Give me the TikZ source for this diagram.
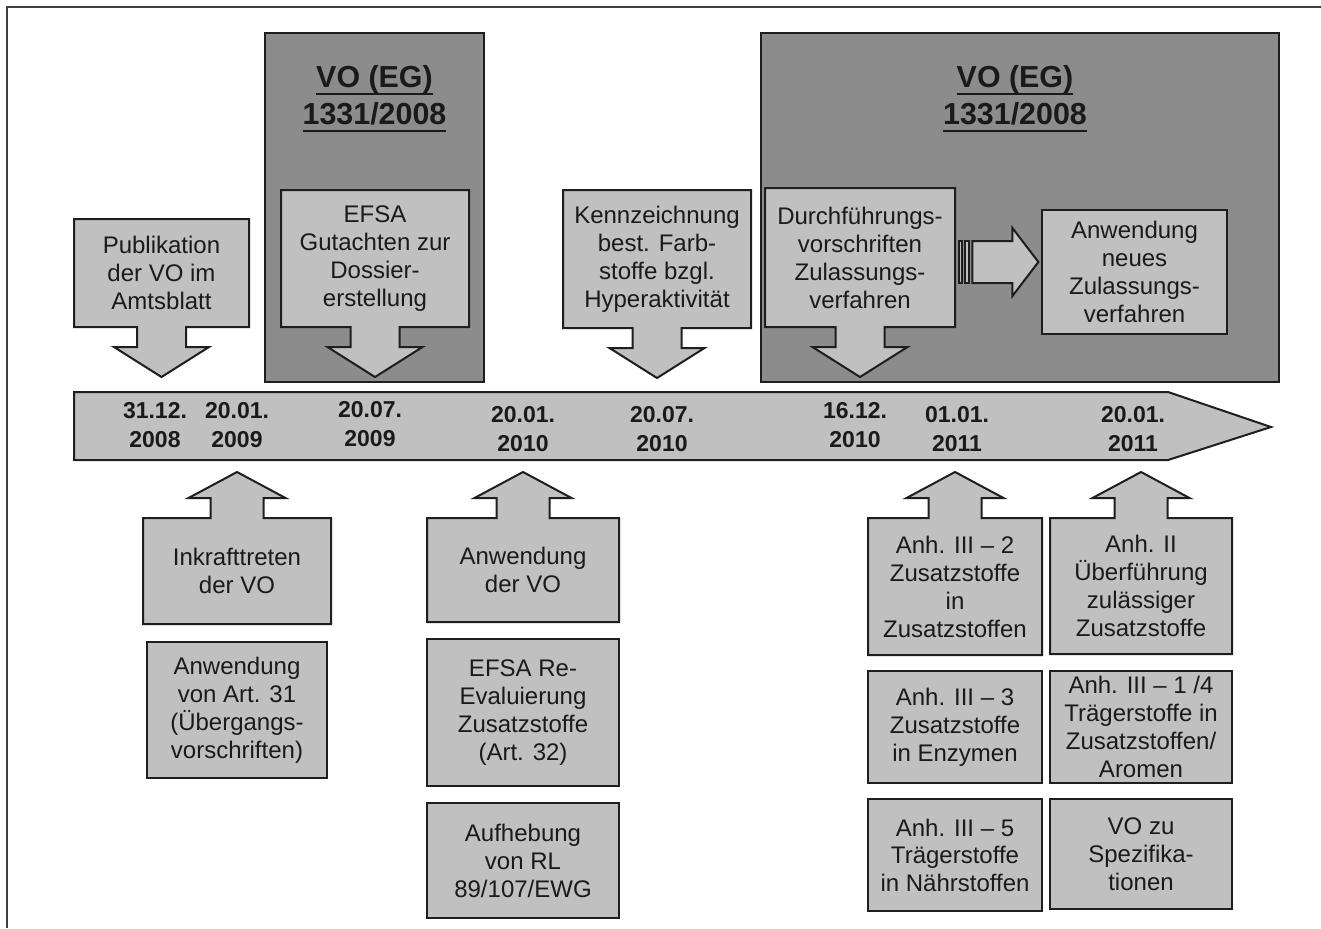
\documentclass[tikz,border=0pt]{standalone}
\usepackage{fontspec}
\setmainfont{Liberation Sans}
\usepackage{tikz}
\usetikzlibrary{positioning,calc}

\definecolor{boxlight}{HTML}{C0C0C0}
\definecolor{boxdark}{HTML}{8C8C8C}
\definecolor{edgecol}{HTML}{1E1E1E}
\definecolor{txtcol}{HTML}{1A1A1A}
\definecolor{framecol}{HTML}{404040}

\tikzset{
  outl/.style={fill=boxlight,draw=edgecol,line width=1pt},
  boxtxt/.style={align=center,inner sep=0pt,text=txtcol,font=\fontsize{12}{14}\selectfont},
  lbox/.style={boxtxt,fill=boxlight,draw=edgecol,line width=1pt},
  dbox/.style={fill=boxdark,draw=edgecol,line width=1.2pt,inner sep=0pt},
  datetxt/.style={align=center,inner sep=0pt,text=txtcol,font=\bfseries\fontsize{11.5}{14.5}\selectfont},
  titletxt/.style={align=center,inner sep=0pt,text=txtcol,font=\bfseries\fontsize{15.2}{18.5}\selectfont},
}

% underlined title line
\newcommand{\titleline}[1]{\setbox0\hbox{#1}\leavevmode\rlap{\copy0}\rule[-3.7pt]{\wd0}{1pt}}

% box with arrow below: name, cx, cy, w, h, text
\newcommand{\dnbox}[6]{%
  \draw[outl] ({#2-#4/2},{#3+#5/2}) -- ({#2-#4/2},{#3-#5/2}) -- ({#2+#4/2},{#3-#5/2})
    -- ({#2+#4/2},{#3+#5/2}) -- ({#2+24.5},{#3+#5/2}) -- ++(0,20) -- ++(23,0)
    -- ++(-47.5,30) -- ++(-47.5,-30) -- ++(23,0) -- ++(0,-20) -- cycle;
  \node[boxtxt,minimum width={#4*0.5pt},minimum height={#5*0.5pt}] (#1) at (#2,#3) {#6};
}
% box with arrow above: name, cx, cy, w, h, text
\newcommand{\upbox}[6]{%
  \draw[outl] ({#2-#4/2},{#3+#5/2}) -- ({#2-#4/2},{#3-#5/2}) -- ({#2-26.5},{#3-#5/2})
    -- ++(0,-20) -- ++(-22,0) -- ++(48.5,-26) -- ++(48.5,26) -- ++(-22,0) -- ++(0,20)
    -- ({#2+#4/2},{#3-#5/2}) -- ({#2+#4/2},{#3+#5/2}) -- cycle;
  \node[boxtxt,minimum width={#4*0.5pt},minimum height={#5*0.5pt}] (#1) at (#2,#3) {#6};
}

\begin{document}
\begin{tikzpicture}[x=0.5pt,y=-0.5pt]
  \useasboundingbox (0,0) rectangle (1321,928);
  \draw[framecol,line width=1.2pt] (7,928) -- (7,7) -- (1321,7);

  % regulation blocks
  \node[dbox,minimum width=109.5pt,minimum height=174.5pt] (vo1) at (374.5,207.5) {};
  \node[dbox,minimum width=259pt,minimum height=174.5pt] (vo2) at (1020,207.5) {};
  \node[titletxt,below=16.5pt of vo1.north] (vo1t) {\titleline{VO (EG)}\\\titleline{1331/2008}};
  \node[titletxt,below=16.5pt of vo2.north,xshift=-2.5pt] (vo2t) {\titleline{VO (EG)}\\\titleline{1331/2008}};

  % top events
  \dnbox{pub}{161.5}{273}{175}{108}{Publikation\\der VO im\\Amtsblatt}
  \dnbox{efsa}{375}{258.5}{188}{137}{EFSA\\Gutachten zur\\Dossier-\\erstellung}
  \dnbox{kenn}{657}{259}{188}{138}{Kennzeichnung\\best. Farb-\\stoffe bzgl.\\Hyperaktivität}
  \dnbox{durch}{860}{257.5}{190}{139}{Durchführungs-\\vorschriften\\Zulassungs-\\verfahren}
  \node[lbox,minimum width=92.5pt,minimum height=62pt] (anwneu) at (1134.5,272) {Anwendung\\neues\\Zulassungs-\\verfahren};

  \coordinate (sa) at ($(durch.east)+(4,4.5)$);
  \draw[outl] ($(sa)+(0,-21)$) rectangle ++(3,42);
  \draw[outl] ($(sa)+(6,-21)$) rectangle ++(4,42);
  \draw[outl] ($(sa)+(13,-21)$) -- ++(40,0) -- ++(0,-13) -- ++(26,34) -- ++(-26,34)
    -- ++(0,-13) -- ++(-40,0) -- cycle;

  % time line
  \draw[outl] (74,392) -- (1168,392) -- (1271,427) -- (1168,460) -- (74,460) -- cycle;
  \begin{scope}[every node/.style={datetxt}]
    \node (d1) at (155,425) {31.12.\\2008};
    \node (d2) at (237,425) {20.01.\\2009};
    \node (d3) at (370,424) {20.07.\\2009};
    \node (d4) at (523,429) {20.01.\\2010};
    \node (d5) at (662,429) {20.07.\\2010};
    \node (d6) at (855,425) {16.12.\\2010};
    \node (d7) at (957,429) {01.01.\\2011};
    \node (d8) at (1133,429) {20.01.\\2011};
  \end{scope}

  % bottom events
  \upbox{inkr}{237}{571}{188}{106}{Inkrafttreten\\der VO}
  \node[lbox,below=8.5pt of inkr,minimum width=90pt,minimum height=68pt] (art31) {Anwendung\\von Art. 31\\(Übergangs-\\vorschriften)};

  \upbox{anwvo}{523}{570}{192}{104}{Anwendung\\der VO}
  \node[lbox,below=8pt of anwvo,minimum width=96pt,minimum height=73.5pt] (reeval) {EFSA Re-\\Evaluierung\\Zusatzstoffe\\(Art. 32)};
  \node[lbox,below=7.5pt of reeval,minimum width=96pt,minimum height=57.5pt] (aufh) {Aufhebung\\von RL\\89/107/EWG};

  \upbox{anh32}{955}{586.5}{174}{137}{Anh. III – 2\\Zusatzstoffe\\in\\Zusatzstoffen}
  \node[lbox,below=7.5pt of anh32,minimum width=87pt,minimum height=56pt] (anh33) {Anh. III – 3\\Zusatzstoffe\\in Enzymen};
  \node[lbox,below=7pt of anh33,minimum width=87pt,minimum height=56pt] (anh35) {Anh. III – 5\\Trägerstoffe\\in Nährstoffen};

  \upbox{anh2}{1141}{586}{182}{136}{Anh. II\\Überführung\\zulässiger\\Zusatzstoffe}
  \node[lbox,below=8pt of anh2,minimum width=91pt,minimum height=56pt] (anh14) {Anh. III – 1 /4\\Trägerstoffe in\\Zusatzstoffen/\\Aromen};
  \node[lbox,below=7pt of anh14,minimum width=91pt,minimum height=55pt] (vozu) {VO zu\\Spezifika-\\tionen};
\end{tikzpicture}
\end{document}
